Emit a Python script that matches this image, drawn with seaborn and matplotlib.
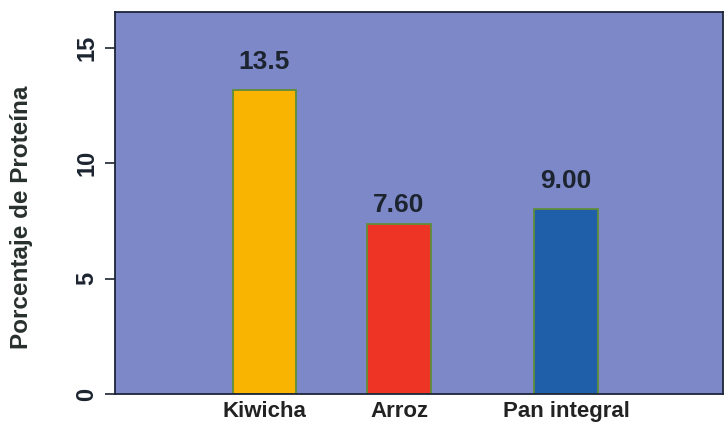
import matplotlib
matplotlib.use("Agg")
import matplotlib.pyplot as plt
import matplotlib.transforms as mtransforms
import seaborn as sns
import pandas as pd

# ---- data ----
categories = ["Kiwicha", "Arroz", "Pan integral"]
protein = [13.2, 7.35, 8.0]              # bar heights as drawn
value_labels = ["13.5", "7.60", "9.00"]  # printed labels
# layout: horizontal positions of the bars (uneven spacing in the original)
x_positions = [1.495, 2.84, 4.51]
label_pads = [11, 5.5, 12]               # label gap above each bar (pt)
bar_colors = ["#F8B400", "#EE3424", "#1F5EA8"]

sns.set_theme(style="white")
plt.rcParams["font.family"] = ["Liberation Sans", "DejaVu Sans"]

df = pd.DataFrame({"pos": x_positions, "protein": protein, "cat": categories})

fig = plt.figure(figsize=(7.26, 4.25), dpi=100)
fig.patch.set_facecolor("white")
ax = fig.add_axes([115 / 726, 31 / 425, 608 / 726, 382 / 425])

sns.barplot(data=df, x="pos", y="protein", hue="cat", palette=bar_colors,
            native_scale=True, width=0.47, legend=False, ax=ax,
            edgecolor="#5E8E3A", linewidth=1.3, saturation=1)

ax.set_facecolor("#7D88C8")
ax.set_xlim(0, 6.08)
ax.set_ylim(0, 16.56)

text_color = "#1C2430"
for cont, lab, pad in zip(ax.containers, value_labels, label_pads):
    ax.bar_label(cont, labels=[lab], padding=pad, fontsize=19,
                 fontweight="bold", color=text_color)

ax.set_xticks(x_positions)
ax.set_xticklabels(categories, fontsize=16, fontweight="bold", color="#222222")
offset = mtransforms.ScaledTranslation(7 / 100, 0, fig.dpi_scale_trans)
for lbl in ax.get_xticklabels():
    lbl.set_transform(lbl.get_transform() + offset)
ax.tick_params(axis="x", length=0, pad=5)

ax.set_yticks([0, 5, 10, 15])
ax.set_yticklabels(["0", "5", "10", "15"], rotation=90, va="center",
                   fontsize=17, fontweight="bold", color=text_color)
ax.tick_params(axis="y", length=7, width=1.2, color=text_color, pad=5,
               left=True)

ax.set_xlabel("")
ax.set_ylabel("Porcentaje de Proteína", fontsize=17.5, fontweight="bold",
              color="#28302E")
ax.yaxis.set_label_coords(-0.135, 0.462)

for s in ax.spines.values():
    s.set_visible(True)
    s.set_color("#1C2538")
    s.set_linewidth(1.3)

fig.savefig("out.png", dpi=100, facecolor="white")
